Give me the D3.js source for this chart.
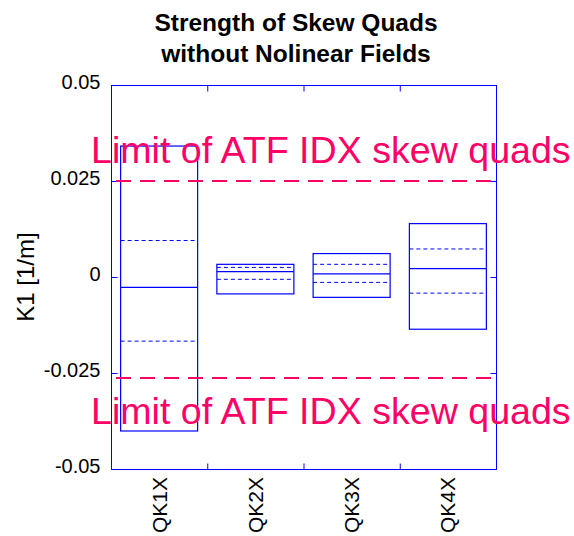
<!DOCTYPE html>
<html>
<head>
<meta charset="utf-8">
<script src="https://cdn.jsdelivr.net/npm/d3@7"></script>
<style>
  html, body { margin: 0; padding: 0; background: #fff; }
  svg { display: block; font-family: "Liberation Sans", Arial, sans-serif; }
</style>
</head>
<body>
<svg id="chart" width="574" height="536"></svg>
<script>
// ---- data ----
const categories   = ["QK1X", "QK2X", "QK3X", "QK4X"];
const boxTop       = [0.0341, 0.0033, 0.0061, 0.0139];
const upperDashed  = [0.0095, 0.0025, 0.0033, 0.0073];
const medianLine   = [-0.0027, 0.0014, 0.0008, 0.0022];
const lowerDashed  = [-0.0167, -0.0006, -0.0014, -0.0042];
const boxBottom    = [-0.0401, -0.0044, -0.0053, -0.0136];
const limitValues  = [0.025, -0.0263];
const limitText    = "Limit of ATF IDX skew quads";
const yTickValues  = [0.05, 0.025, 0, -0.025, -0.05];
const yTickLabels  = ["0.05", "0.025", "0", "-0.025", "-0.05"];
const titleLines   = ["Strength of Skew Quads", "without Nolinear Fields"];
const yLabel       = "K1 [1/m]";

// ---- layout ----
const pL = 111, pR = 496, pT = 85, pB = 469;
const blue = "#0000ff", pink = "#ff0066";

const svg = d3.select("#chart");
const x = d3.scaleLinear().domain([0.5, categories.length + 0.5]).range([pL, pR]);
const y = d3.scaleLinear().domain([-0.05, 0.05]).range([pB, pT]);
const boxW = 0.8;

// frame
svg.append("rect")
  .attr("x", pL + 0.5).attr("y", pT + 0.5)
  .attr("width", pR - pL).attr("height", pB - pT)
  .attr("fill", "none").attr("stroke", blue).attr("stroke-width", 1)
  .attr("shape-rendering", "crispEdges");

// y axes (inward ticks)
const yAxisL = d3.axisLeft(y).tickValues(yTickValues)
  .tickFormat((d, i) => yTickLabels[i]).tickSizeInner(-6).tickSizeOuter(0).tickPadding(11);
const gL = svg.append("g").attr("transform", `translate(${pL + 0.5},0)`).call(yAxisL);
gL.select(".domain").remove();
gL.selectAll("line").attr("stroke", blue);
gL.selectAll("text").attr("fill", "#000").attr("font-size", 20)
  .attr("font-family", "'Liberation Sans', Arial, sans-serif").attr("dy", 3);

const yAxisR = d3.axisRight(y).tickValues(yTickValues).tickFormat("").tickSizeInner(-6).tickSizeOuter(0);
const gR = svg.append("g").attr("transform", `translate(${pR + 0.5},0)`).call(yAxisR);
gR.select(".domain").remove();
gR.selectAll("line").attr("stroke", blue);

// x ticks at band boundaries (top and bottom, inward)
const xTickVals = d3.range(1.5, categories.length, 1);
const xAxisB = d3.axisBottom(x).tickValues(xTickVals).tickFormat("").tickSizeInner(-6).tickSizeOuter(0);
const gB = svg.append("g").attr("transform", `translate(0,${pB + 0.5})`).call(xAxisB);
gB.select(".domain").remove();
gB.selectAll("line").attr("stroke", blue);
const xAxisT = d3.axisTop(x).tickValues(xTickVals).tickFormat("").tickSizeInner(-6).tickSizeOuter(0);
const gT = svg.append("g").attr("transform", `translate(0,${pT + 0.5})`).call(xAxisT);
gT.select(".domain").remove();
gT.selectAll("line").attr("stroke", blue);

// category labels (rotated)
svg.append("g").selectAll("text").data(categories).join("text")
  .attr("transform", (d, i) => `translate(${x(i + 1)},${pB + 8}) rotate(-90)`)
  .attr("text-anchor", "end").attr("dy", "0.36em")
  .attr("font-size", 21).attr("fill", "#000").text(d => d);

// boxes
const boxes = svg.append("g").selectAll("g").data(categories).join("g");
boxes.append("rect")
  .attr("x", (d, i) => x(i + 1 - boxW / 2))
  .attr("y", (d, i) => y(boxTop[i]))
  .attr("width", (d, i) => x(i + 1 + boxW / 2) - x(i + 1 - boxW / 2))
  .attr("height", (d, i) => y(boxBottom[i]) - y(boxTop[i]))
  .attr("fill", "none").attr("stroke", blue).attr("stroke-width", 1.2);
boxes.append("line")
  .attr("x1", (d, i) => x(i + 1 - boxW / 2)).attr("x2", (d, i) => x(i + 1 + boxW / 2))
  .attr("y1", (d, i) => y(medianLine[i])).attr("y2", (d, i) => y(medianLine[i]))
  .attr("stroke", blue).attr("stroke-width", 1.2);
[upperDashed, lowerDashed].forEach(arr => {
  boxes.append("line")
    .attr("x1", (d, i) => x(i + 1 - boxW / 2)).attr("x2", (d, i) => x(i + 1 + boxW / 2) - 3)
    .attr("y1", (d, i) => y(arr[i])).attr("y2", (d, i) => y(arr[i]))
    .attr("stroke", blue).attr("stroke-width", 1).attr("stroke-dasharray", "4,3");
});

// limit lines
svg.append("g").selectAll("line").data(limitValues).join("line")
  .attr("x1", pL + 5).attr("x2", pR)
  .attr("y1", d => y(d)).attr("y2", d => y(d))
  .attr("stroke", pink).attr("stroke-width", 2).attr("stroke-dasharray", "15,9");

// limit texts
const limitBaselines = [y(limitValues[0]) - 18, y(limitValues[1]) + 46];
svg.append("g").selectAll("text").data(limitBaselines).join("text")
  .attr("x", 91).attr("y", d => d)
  .attr("font-size", 37.6).attr("fill", pink).text(limitText);

// y label
svg.append("text")
  .attr("transform", `translate(34,${(pT + pB) / 2}) rotate(-90)`)
  .attr("text-anchor", "middle").attr("font-size", 24).attr("fill", "#000").text(yLabel);

// title
svg.append("g").selectAll("text").data(titleLines).join("text")
  .attr("x", 296).attr("y", (d, i) => 31 + i * 31)
  .attr("text-anchor", "middle").attr("font-size", 24.5).attr("font-weight", "bold")
  .attr("fill", "#000").text(d => d);
</script>
</body>
</html>
